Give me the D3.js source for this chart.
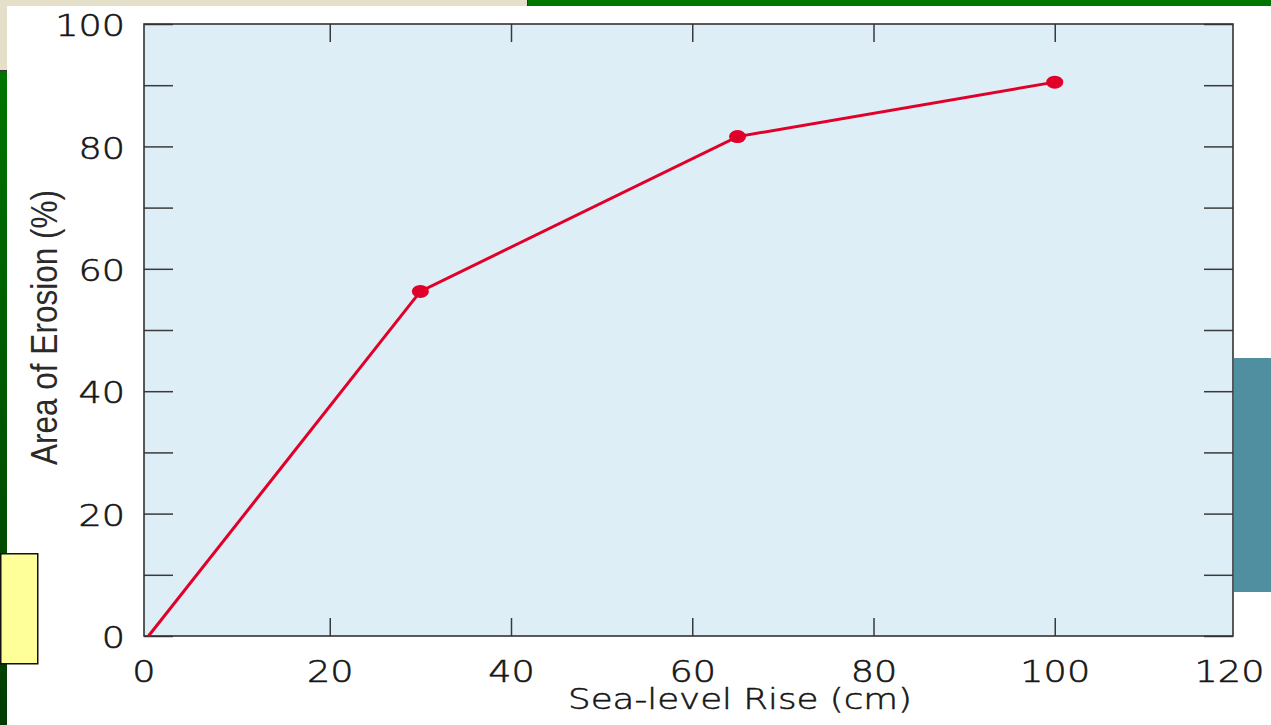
<!DOCTYPE html>
<html>
<head>
<meta charset="utf-8">
<script src="https://cdn.jsdelivr.net/npm/d3@7"></script>
<style>
  html, body { margin: 0; padding: 0; background: #ffffff; }
  svg { display: block; }
</style>
</head>
<body>
<svg id="chart" width="1271" height="725"></svg>
<script>
// ---- data ----
const seaLevelRise = [0, 30, 65, 100];          // cm
const erosionArea  = [0, 56.3, 81.6, 90.5];     // %
const markerFlags  = [false, true, true, true];
const xTicks = [0, 20, 40, 60, 80, 100, 120];
const yTicks = [0, 20, 40, 60, 80, 100];
const yMinorTicks = [10, 30, 50, 70, 90];
const xTitle = "Sea-level Rise (cm)";
const yTitle = "Area of Erosion (%)";

const svg = d3.select("#chart");

// ---- slide decorations ----
svg.append("rect").attr("x", 0).attr("y", 0).attr("width", 527).attr("height", 71).attr("fill", "#e4dfc8");
svg.append("rect").attr("x", 527).attr("y", 0).attr("width", 744).attr("height", 6).attr("fill", "#007600");
svg.append("line").attr("x1", 527.5).attr("x2", 527.5).attr("y1", 0).attr("y2", 6).attr("stroke", "#333").attr("stroke-width", 1);
const grad = svg.append("defs").append("linearGradient").attr("id", "gbar").attr("x1", 0).attr("x2", 0).attr("y1", 0).attr("y2", 1);
grad.append("stop").attr("offset", "0%").attr("stop-color", "#007400");
grad.append("stop").attr("offset", "100%").attr("stop-color", "#003c00");
svg.append("rect").attr("x", 0).attr("y", 71).attr("width", 7).attr("height", 654).attr("fill", "url(#gbar)");
svg.append("line").attr("x1", 0).attr("x2", 7).attr("y1", 70.5).attr("y2", 70.5).attr("stroke", "#333").attr("stroke-width", 1);
svg.append("rect").attr("x", 7).attr("y", 6).attr("width", 1264).attr("height", 719).attr("fill", "#ffffff");
svg.append("rect").attr("x", 0.75).attr("y", 553.75).attr("width", 37).attr("height", 110).attr("fill", "#ffff99").attr("stroke", "#111").attr("stroke-width", 1.5);
svg.append("rect").attr("x", 1234).attr("y", 358).attr("width", 37).attr("height", 234).attr("fill", "#4f8fa0");

// ---- chart ----
const L = 144, R = 1233, T = 24, B = 636;
const x = d3.scaleLinear().domain([0, 120]).range([148.5, 1236]);
const y = d3.scaleLinear().domain([0, 100]).range([B, T]);

svg.append("rect").attr("x", L).attr("y", T).attr("width", R - L).attr("height", B - T).attr("fill", "#deeef6");

const sx = 1.22;
const font = "'DejaVu Sans', sans-serif";
const txtCol = "#161616";

function styleText(sel) {
  sel.attr("font-family", font).attr("font-weight", 200).attr("font-size", 30)
    .attr("fill", txtCol).attr("stroke", txtCol).attr("stroke-width", 0.55);
}

// left axis (major with labels)
const gl = svg.append("g").attr("transform", `translate(${L},0)`)
  .call(d3.axisLeft(y).tickValues(yTicks).tickSize(-29).tickPadding(19).tickFormat(d3.format("d")));
gl.select(".domain").remove();
gl.selectAll(".tick line").attr("stroke", "#3a3a3a").attr("stroke-width", 1.5);
gl.selectAll(".tick text").call(styleText)
  .attr("x", -19 / sx).attr("y", 2).attr("transform", `scale(${sx},1)`);
// left minor
const glm = svg.append("g").attr("transform", `translate(${L},0)`)
  .call(d3.axisLeft(y).tickValues(yMinorTicks).tickSize(-29).tickFormat(""));
glm.select(".domain").remove();
glm.selectAll(".tick line").attr("stroke", "#3a3a3a").attr("stroke-width", 1.5);

// right axis
const gr = svg.append("g").attr("transform", `translate(${R},0)`)
  .call(d3.axisRight(y).tickValues(yTicks.concat(yMinorTicks)).tickSize(-29).tickFormat(""));
gr.select(".domain").remove();
gr.selectAll(".tick line").attr("stroke", "#3a3a3a").attr("stroke-width", 1.5);

// top axis
const gt = svg.append("g").attr("transform", `translate(0,${T})`)
  .call(d3.axisTop(x).tickValues(xTicks.slice(1, -1)).tickSize(-18).tickFormat(""));
gt.select(".domain").remove();
gt.selectAll(".tick line").attr("stroke", "#3a3a3a").attr("stroke-width", 1.5);

// bottom axis
const gb = svg.append("g").attr("transform", `translate(0,${B})`)
  .call(d3.axisBottom(x).tickValues(xTicks).tickSize(-18).tickFormat(d3.format("d")));
gb.select(".domain").remove();
gb.selectAll(".tick line").attr("stroke", "#3a3a3a").attr("stroke-width", 1.5)
  .attr("opacity", d => (d === 0 || d === 120) ? 0 : 1);
gb.selectAll(".tick text").call(styleText)
  .attr("y", 46).attr("dy", 0).attr("transform", `scale(${sx},1)`)
  .attr("x", d => (d === 0 ? -5 : d === 120 ? -7 : 0) / sx);

// frame
svg.append("rect").attr("x", L).attr("y", T).attr("width", R - L).attr("height", B - T)
  .attr("fill", "none").attr("stroke", "#333").attr("stroke-width", 1.6);

// data line
const pts = seaLevelRise.map((v, i) => ({ x: v, y: erosionArea[i], m: markerFlags[i] }));
svg.append("path").datum(pts)
  .attr("d", d3.line().x(d => x(d.x)).y(d => y(d.y)))
  .attr("fill", "none").attr("stroke", "#e0002a").attr("stroke-width", 3);
svg.selectAll("ellipse.pt").data(pts.filter(d => d.m)).enter().append("ellipse")
  .attr("class", "pt")
  .attr("cx", d => x(d.x)).attr("cy", d => y(d.y))
  .attr("rx", 8.5).attr("ry", 6.5).attr("fill", "#e0002a");

// titles
svg.append("text").attr("x", 740).attr("y", 709)
  .attr("text-anchor", "middle").attr("font-family", font).attr("font-weight", 200).attr("font-size", 28)
  .attr("fill", txtCol).attr("stroke", txtCol).attr("stroke-width", 0.5)
  .attr("textLength", 344).attr("lengthAdjust", "spacingAndGlyphs")
  .text(xTitle);
svg.append("text").attr("transform", "translate(57,327.5) rotate(-90)")
  .attr("text-anchor", "middle").attr("font-family", "'Liberation Sans Narrow', 'Liberation Sans', sans-serif")
  .attr("font-size", 36).attr("fill", "#2a2a2a")
  .attr("textLength", 275).attr("lengthAdjust", "spacingAndGlyphs")
  .text(yTitle);
</script>
</body>
</html>
